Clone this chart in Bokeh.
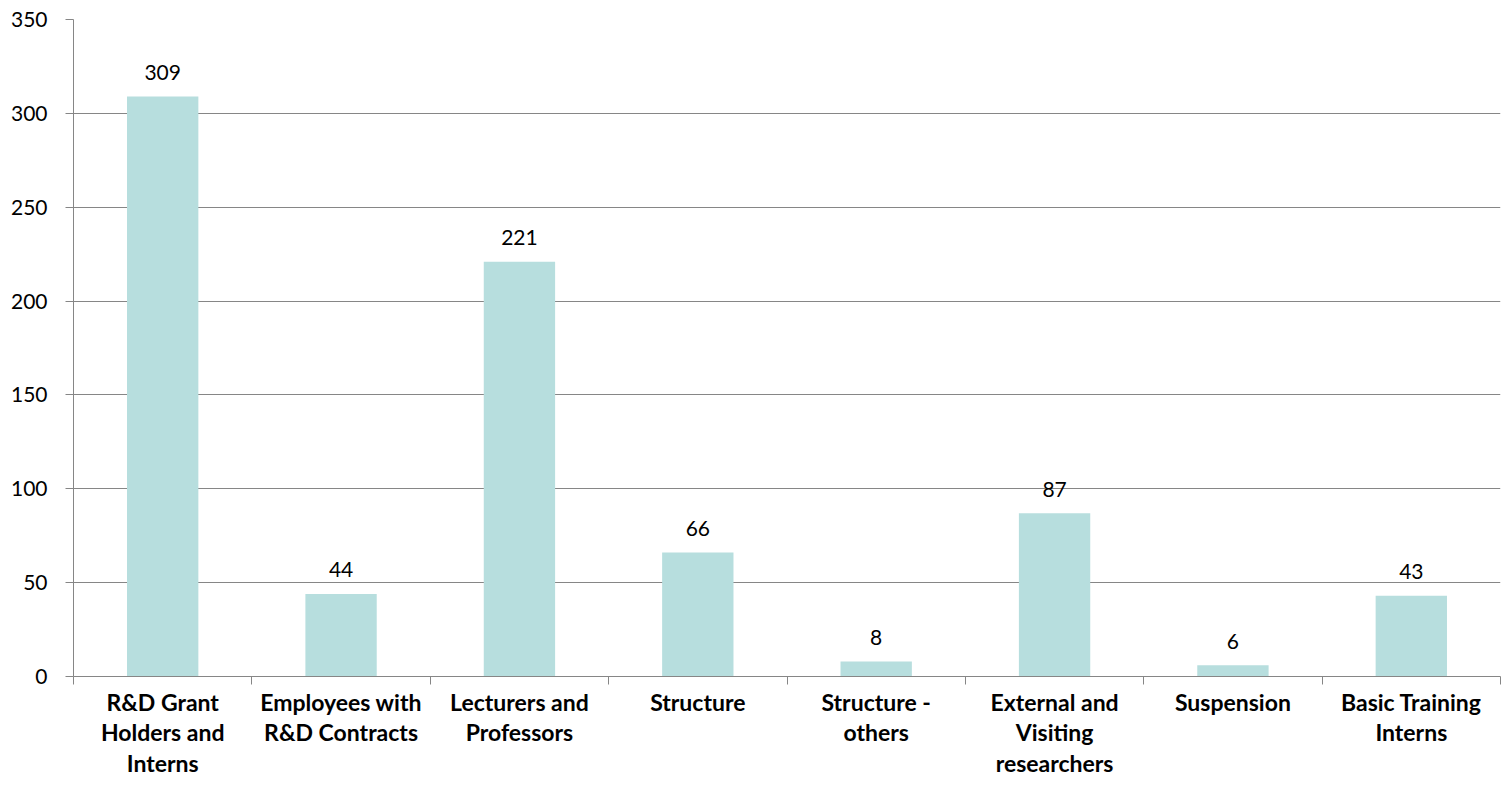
from bokeh.plotting import figure
from bokeh.models import ColumnDataSource, FixedTicker, Range1d
from bokeh.core.properties import value
from bokeh.embed import file_html
from bokeh.resources import INLINE

categories = [
    "R&D Grant\nHolders and\nInterns",
    "Employees with\nR&D Contracts",
    "Lecturers and\nProfessors",
    "Structure",
    "Structure -\nothers",
    "External and\nVisiting\nresearchers",
    "Suspension",
    "Basic Training\nInterns",
]
counts = [309, 44, 221, 66, 8, 87, 6, 43]
y_ticks = [0, 50, 100, 150, 200, 250, 300, 350]

centers = [i + 0.5 for i in range(len(categories))]
bounds = list(range(len(categories) + 1))

src = ColumnDataSource(dict(x=centers, count=counts, label=[str(c) for c in counts]))

FONT = "Lato"
GRAY = "#868686"

p = figure(width=1501, height=780, x_range=Range1d(0, len(categories)),
           y_range=Range1d(0, 350), output_backend="svg", toolbar_location=None,
           min_border_left=73, min_border_right=1, min_border_top=19,
           min_border_bottom=103)
p.outline_line_color = None
p.background_fill_color = "white"
p.border_fill_color = "white"

p.vbar(x="x", top="count", width=0.4, source=src, fill_color="#B7DEDE", line_color=None)
p.text(x="x", y="count", text="label", source=src, text_align="center",
       text_baseline="alphabetic", y_offset=-24, text_font=value(FONT),
       text_font_size="21px", text_color="black")

p.xgrid.visible = False
p.ygrid.ticker = FixedTicker(ticks=y_ticks)
p.ygrid.grid_line_color = GRAY
p.ygrid.grid_line_width = 1

ya = p.yaxis[0]
ya.ticker = FixedTicker(ticks=y_ticks)
ya.axis_line_color = GRAY
ya.major_tick_line_color = GRAY
ya.major_tick_out = 8
ya.major_tick_in = 0
ya.minor_tick_line_color = None
ya.major_label_text_font = FONT
ya.major_label_text_font_size = "21px"
ya.major_label_text_color = "black"
ya.major_label_standoff = 18

xa = p.xaxis[0]
xa.ticker = FixedTicker(ticks=centers, minor_ticks=bounds)
xa.axis_line_color = GRAY
xa.major_tick_line_color = None
xa.minor_tick_line_color = GRAY
xa.minor_tick_out = 8
xa.minor_tick_in = 0
xa.major_label_overrides = {c: lab for c, lab in zip(centers, categories)}
xa.major_label_text_font = FONT
xa.major_label_text_font_style = "bold"
xa.major_label_text_font_size = "23px"
xa.major_label_text_color = "black"
xa.major_label_text_line_height = 1.1
xa.major_label_standoff = 3

open("out.html", "w").write(file_html(p, INLINE))
